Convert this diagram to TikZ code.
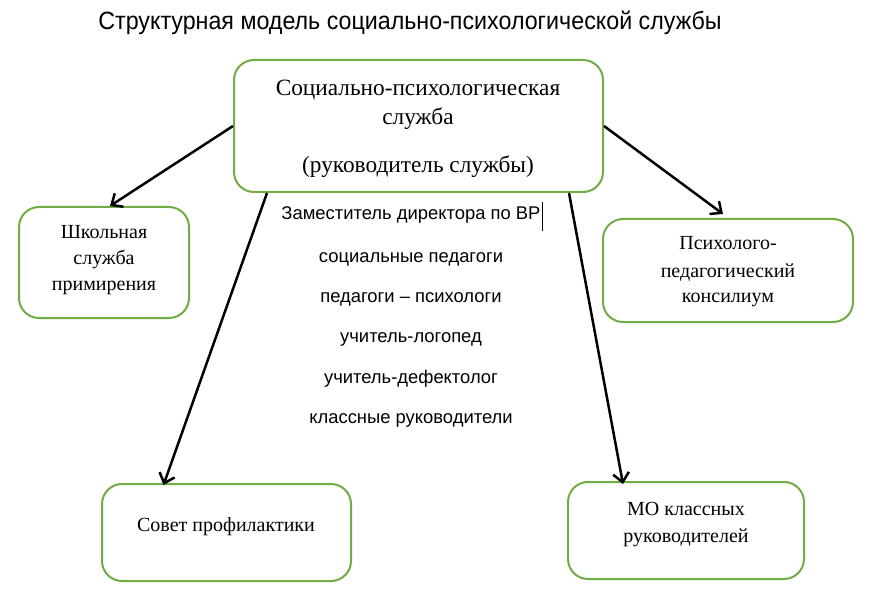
\documentclass[tikz,border=0pt]{standalone}
\usepackage{fontspec}
\setmainfont{Liberation Serif}
\newfontfamily\sansf{Liberation Sans}
\newfontfamily\titlef[FakeStretch=0.93]{Liberation Sans}
\usetikzlibrary{arrows.meta}
\definecolor{boxgreen}{HTML}{70AD47}
\begin{document}
\begin{tikzpicture}[x=1pt,y=-1pt,
  gbox/.style={draw=boxgreen,line width=2pt,rounded corners=20pt,fill=white,inner sep=0pt},
  serif/.style={anchor=base,inner sep=0pt,font=\fontsize{20}{23}\selectfont},
  bigserif/.style={anchor=base,inner sep=0pt,font=\fontsize{23.3}{26}\selectfont},
  midtext/.style={anchor=base,inner sep=0pt,font=\sansf\fontsize{18.4}{21}\selectfont},
  conn/.style={line width=2.5pt,-{Straight Barb[length=9pt,width=16pt,line width=2.5pt]}}]
\useasboundingbox (0,0) rectangle (871,599);
% boxes
\node[gbox,minimum width=369pt,minimum height=132pt] (top) at (418.5,126) {};
\node[gbox,minimum width=170pt,minimum height=111pt] (left) at (104,262.5) {};
\node[gbox,minimum width=250pt,minimum height=103pt] (right) at (728,270.5) {};
\node[gbox,minimum width=249pt,minimum height=97pt] (bl) at (226.5,532.5) {};
\node[gbox,minimum width=236pt,minimum height=97pt] (br) at (686,530.5) {};
% title
\node[anchor=base,inner sep=0pt,font=\titlef\fontsize{25}{28}\selectfont] (title) at (410,30) {Структурная модель социально-психологической службы};
% top box text
\node[bigserif] (t1) at (418,96) {Социально-психологическая};
\node[bigserif] (t2) at (418,125) {служба};
\node[bigserif] (t3) at (418,173) {(руководитель службы)};
% left
\node[serif] (l1) at (104,239) {Школьная};
\node[serif] (l2) at (104,265) {служба};
\node[serif] (l3) at (104,290) {примирения};
% right
\node[serif] (r1) at (728,250) {Психолого-};
\node[serif] (r2) at (728,277) {педагогический};
\node[serif] (r3) at (728,302) {консилиум};
% bottom
\node[serif] (b1) at (226,531) {Совет профилактики};
\node[serif] (c1) at (686,515) {МО классных};
\node[serif] (c2) at (686,542) {руководителей};
% middle list
\node[midtext] (m1) at (411,220) {Заместитель директора по ВР};
\node[midtext] (m2) at (411,262) {социальные педагоги};
\node[midtext] (m3) at (411,302) {педагоги – психологи};
\node[midtext] (m4) at (411,342) {учитель-логопед};
\node[midtext] (m5) at (411,383) {учитель-дефектолог};
\node[midtext] (m6) at (411,423) {классные руководители};
\coordinate (cur1) at ([xshift=2pt,yshift=18pt]m1.base east);
\coordinate (cur2) at ([xshift=2pt,yshift=-11pt]m1.base east);
\draw[line width=0.8pt] (cur1) -- (cur2);
% connectors
\draw[conn] (top.west) -- ([xshift=6pt]left.north);
\draw[conn] (top.east) -- ([xshift=-5pt,yshift=4pt]right.north);
\draw[conn] ([xshift=34pt]top.south west) -- ([xshift=-63pt,yshift=-2pt]bl.north);
\draw[conn] ([xshift=-35pt]top.south east) -- ([xshift=-63pt,yshift=-3pt]br.north);
\end{tikzpicture}
\end{document}
